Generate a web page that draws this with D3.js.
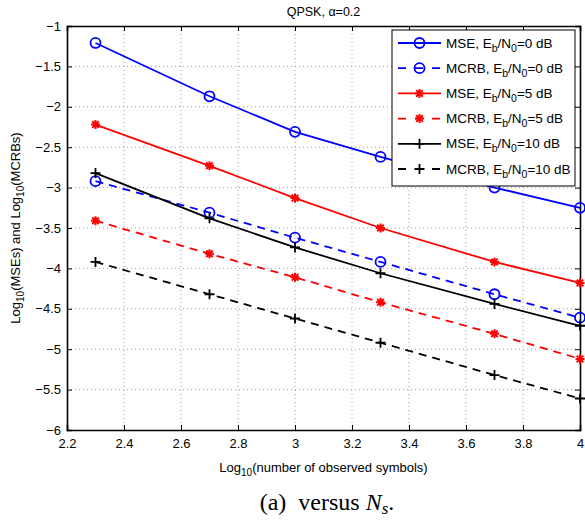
<!DOCTYPE html>
<html><head><meta charset="utf-8">
<script src="https://cdn.jsdelivr.net/npm/d3@7"></script>
<style>body{margin:0;background:#fff}svg{display:block}</style>
</head><body><svg id="c" width="585" height="520" font-family="Liberation Sans, Arial, sans-serif"></svg>
<script>
const xs = [2.3, 2.7, 3, 3.3, 3.7, 4];
const mse0 = [-1.21, -1.87, -2.31, -2.62, -3.00, -3.25];
const mcrb0 = [-2.92, -3.31, -3.62, -3.92, -4.32, -4.61];
const mse5 = [-2.22, -2.73, -3.13, -3.50, -3.92, -4.18];
const mcrb5 = [-3.41, -3.82, -4.11, -4.42, -4.81, -5.12];
const mse10 = [-2.82, -3.38, -3.74, -4.06, -4.44, -4.71];
const mcrb10 = [-3.92, -4.32, -4.62, -4.92, -5.32, -5.61];
const xTicks = [2.2, 2.4, 2.6, 2.8, 3, 3.2, 3.4, 3.6, 3.8, 4];
const yTicks = [-6, -5.5, -5, -4.5, -4, -3.5, -3, -2.5, -2, -1.5, -1];
const seriesNames = ["MSE, E_b/N_0=0 dB","MCRB, E_b/N_0=0 dB","MSE, E_b/N_0=5 dB","MCRB, E_b/N_0=5 dB","MSE, E_b/N_0=10 dB","MCRB, E_b/N_0=10 dB"];
const seriesVals = [mse0, mcrb0, mse5, mcrb5, mse10, mcrb10];
const seriesColors = ["#0000ff","#0000ff","#ff0000","#ff0000","#000000","#000000"];
const seriesDashed = [false, true, false, true, false, true];
const seriesMarkers = ["circle","circle","star","star","plus","plus"];

const svg = d3.select("#c");
const SANS = "Liberation Sans, Arial, sans-serif";
const L=67, R=580, T=26, B=430;
const x = d3.scaleLinear().domain([2.2,4]).range([L,R]);
const y = d3.scaleLinear().domain([-6,-1]).range([B,T]);
const fmt = v => d3.format("")(v).replace("-", "\u2212");

// grid
const g = svg.append("g");
xTicks.slice(1,-1).forEach(t=>g.append("line").attr("x1",x(t)).attr("x2",x(t)).attr("y1",T).attr("y2",B)
  .attr("stroke","#888").attr("stroke-width",0.8).attr("stroke-dasharray","1,3"));
yTicks.slice(1,-1).forEach(t=>g.append("line").attr("x1",L).attr("x2",R).attr("y1",y(t)).attr("y2",y(t))
  .attr("stroke","#888").attr("stroke-width",0.8).attr("stroke-dasharray","1,3"));

// axes
const ax = svg.append("g").attr("transform",`translate(0,${B})`).call(d3.axisBottom(x).tickValues(xTicks).tickSize(-5).tickPadding(9).tickFormat(fmt));
const ay = svg.append("g").attr("transform",`translate(${L},0)`).call(d3.axisLeft(y).tickValues(yTicks).tickSize(-5).tickPadding(6).tickFormat(fmt));
const ax2 = svg.append("g").attr("transform",`translate(0,${T})`).call(d3.axisTop(x).tickValues(xTicks).tickSize(-5).tickFormat(""));
const ay2 = svg.append("g").attr("transform",`translate(${R},0)`).call(d3.axisRight(y).tickValues(yTicks).tickSize(-5).tickFormat(""));
[ax,ay,ax2,ay2].forEach(a=>{a.attr("font-family",SANS).attr("font-size",13);
  a.select(".domain").attr("stroke","#000").attr("stroke-width",1.6);
  a.selectAll(".tick line").attr("stroke","#000").attr("stroke-width",1);
  a.selectAll("text").attr("fill","#000");});

// series
const line = d3.line().x((d,i)=>x(xs[i])).y(d=>y(d));
function marker(sel, type, cx, cy, color){
  if(type==="circle"){
    sel.append("circle").attr("cx",cx).attr("cy",cy).attr("r",5).attr("fill","none").attr("stroke",color).attr("stroke-width",1.8);
  } else if(type==="plus"){
    sel.append("path").attr("d",`M${cx-5},${cy}H${cx+5}M${cx},${cy-5}V${cy+5}`).attr("stroke",color).attr("stroke-width",1.8);
  } else {
    const r=4.5, r2=3.3;
    sel.append("path").attr("d",`M${cx-r},${cy}H${cx+r}M${cx},${cy-r}V${cy+r}M${cx-r2},${cy-r2}L${cx+r2},${cy+r2}M${cx-r2},${cy+r2}L${cx+r2},${cy-r2}`)
      .attr("stroke",color).attr("stroke-width",2);
  }
}
const sg = svg.append("g");
seriesVals.forEach((vals,k)=>{
  sg.append("path").attr("d",line(vals)).attr("fill","none").attr("stroke",seriesColors[k]).attr("stroke-width",1.8)
    .attr("stroke-dasharray",seriesDashed[k]?"8,6":null);
  vals.forEach((v,i)=>marker(sg, seriesMarkers[k], x(xs[i]), y(v), seriesColors[k]));
});

// legend
const lg = svg.append("g");
lg.append("rect").attr("x",392).attr("y",30).attr("width",183).attr("height",156).attr("fill","#fff").attr("stroke","#000").attr("stroke-width",1);
seriesNames.forEach((n,k)=>{
  const yy = 43 + k*25.2;
  lg.append("line").attr("x1",398).attr("x2",441).attr("y1",yy).attr("y2",yy).attr("stroke",seriesColors[k]).attr("stroke-width",1.8)
    .attr("stroke-dasharray",seriesDashed[k]?"8,9":null);
  marker(lg, seriesMarkers[k], 419.5, yy, seriesColors[k]);
  const parts = n.split(/(_b|_0)/);
  const t = lg.append("text").attr("x",446).attr("y",yy+4.5).attr("font-size",13.5).attr("fill","#000");
  let sub=false;
  parts.forEach(p=>{
    if(p==="_b"||p==="_0"){
      t.append("tspan").attr("dy",4).attr("font-size",10.5).text(p.slice(1));
      sub=true;
    } else if(p.length){
      t.append("tspan").attr("dy",sub?-4:0).text(p); sub=false;
    }
  });
});

// title
svg.append("text").attr("x",(L+R)/2).attr("y",16).attr("text-anchor","middle").attr("font-size",12.5).text("QPSK, \u03b1=0.2");

// x label
const xl = svg.append("text").attr("x",(L+R)/2).attr("y",472).attr("text-anchor","middle").attr("font-size",13);
xl.append("tspan").text("Log");
xl.append("tspan").attr("dy",4).attr("font-size",10).text("10");
xl.append("tspan").attr("dy",-4).text("(number of observed symbols)");

// y label
const yl = svg.append("text").attr("transform",`translate(20,${(T+B)/2}) rotate(-90)`).attr("text-anchor","middle").attr("font-size",13);
yl.append("tspan").text("Log");
yl.append("tspan").attr("dy",4).attr("font-size",10).text("10");
yl.append("tspan").attr("dy",-4).text("(MSEs) and Log");
yl.append("tspan").attr("dy",4).attr("font-size",10).text("10");
yl.append("tspan").attr("dy",-4).text("(MCRBs)");

// caption
const cap = svg.append("text").attr("x",327).attr("y",510).attr("text-anchor","middle").attr("font-size",24)
  .attr("font-family","Liberation Serif, Times New Roman, serif");
cap.append("tspan").text("(a)\u00a0 versus ");
cap.append("tspan").attr("font-style","italic").text("N");
cap.append("tspan").attr("font-style","italic").attr("font-size",17).attr("dy",4).text("s");
cap.append("tspan").attr("dy",-4).text(".");
</script></body></html>
